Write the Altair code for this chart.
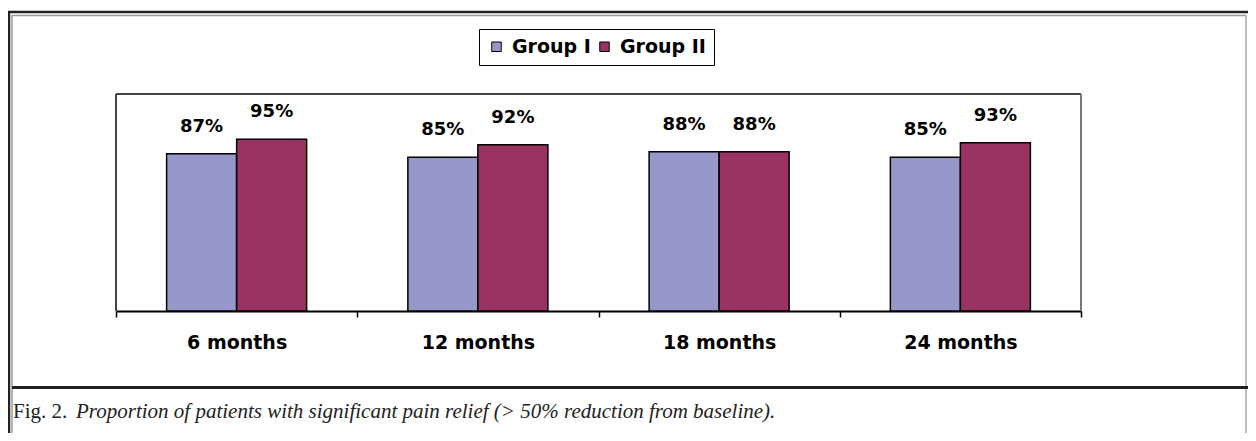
import altair as alt
import pandas as pd

categories = ["6 months", "12 months", "18 months", "24 months"]
groups = ["Group I", "Group II"]
group1 = [87, 85, 88, 85]
group2 = [95, 92, 88, 93]
colors = ["#9797C9", "#993361"]
caption_head = ["Fig. 2."]
caption_body = ["Proportion of  patients with significant pain relief  (> 50% reduction from baseline)."]

rows = []
for c, a, b in zip(categories, group1, group2):
    rows.append({"cat": c, "group": groups[0], "value": a, "label": f"{a}%"})
    rows.append({"cat": c, "group": groups[1], "value": b, "label": f"{b}%"})
df = pd.DataFrame(rows)

x = alt.X("cat:N", sort=categories, title=None,
          scale=alt.Scale(paddingInner=0, paddingOuter=0),
          axis=alt.Axis(labelAngle=0, labelFont="DejaVu Sans", labelFontWeight="bold",
                        labelFontSize=19, labelColor="black", labelPadding=16,
                        domainColor="black", domainWidth=2, tickColor="black",
                        tickWidth=1.5, tickSize=6, tickBand="extent", grid=False))
xo = alt.XOffset("group:N", sort=groups,
                 scale=alt.Scale(paddingInner=0, paddingOuter=0.723))
y = alt.Y("value:Q", scale=alt.Scale(domain=[0, 120]), axis=None)

bars = alt.Chart(df).mark_bar(stroke="black", strokeWidth=1.5).encode(
    x=x, xOffset=xo, y=y,
    color=alt.Color("group:N", sort=groups,
                    scale=alt.Scale(domain=groups, range=colors),
                    legend=alt.Legend(title=None, orient="none", legendX=363, legendY=-65,
                                      direction="horizontal", strokeColor="black",
                                      fillColor="white", padding=8, symbolType="square",
                                      symbolSize=90, symbolStrokeColor="black",
                                      symbolStrokeWidth=1, labelFont="DejaVu Sans",
                                      labelFontWeight="bold", labelFontSize=19,
                                      labelColor="black", columnPadding=4,
                                      labelOffset=6)),
)

labels = alt.Chart(df).mark_text(baseline="bottom", dy=-18, font="DejaVu Sans",
                                 fontWeight="bold", fontSize=18, color="black").encode(
    x=x, xOffset=xo, y=y, text="label:N"
)

one = pd.DataFrame({"k": [0]})
W, H = 965, 217

def hline(yv, x1, x2, color, width):
    return alt.Chart(one).mark_rule(color=color, strokeWidth=width).encode(
        x=alt.value(x1), x2=alt.value(x2), y=alt.value(yv))

def vline(xv, y1, y2, color, width):
    return alt.Chart(one).mark_rule(color=color, strokeWidth=width).encode(
        x=alt.value(xv), y=alt.value(y1), y2=alt.value(y2))

frame = [
    hline(-82, -109, 1140, "#222222", 2.5),
    hline(-78.5, -104, 1130, "#999999", 1.5),
    vline(-107, -83, 340, "#222222", 2.5),
    vline(-104, -79, 340, "#999999", 1.5),
    vline(1130, -79, 340, "#aaaaaa", 1.5),
    hline(293.5, -104, 1140, "#222222", 3),
    # plot-area border
    hline(0, 0, W, "#444444", 2),
    vline(0, 0, H, "#444444", 2),
    vline(W, 0, H, "#777777", 2),
]

cap1 = alt.Chart(pd.DataFrame({"t": caption_head})).mark_text(
    align="left", baseline="alphabetic", font="Liberation Serif", fontSize=21,
    color="#222222").encode(x=alt.value(-103), y=alt.value(324), text="t:N")
cap2 = alt.Chart(pd.DataFrame({"t": caption_body})).mark_text(
    align="left", baseline="alphabetic", font="Liberation Serif", fontSize=21,
    fontStyle="italic", color="#222222").encode(x=alt.value(-40), y=alt.value(324), text="t:N")

chart = alt.layer(*frame[6:], bars, labels, *frame[:6], cap1, cap2).properties(
    width=W, height=H,
    autosize=alt.AutoSizeParams(type="none"),
    padding={"left": 108, "top": 86, "right": 167, "bottom": 122},
).configure_view(stroke=None).configure(background="white")

chart.save("out.html", embed_options={"renderer": "svg", "actions": False})
